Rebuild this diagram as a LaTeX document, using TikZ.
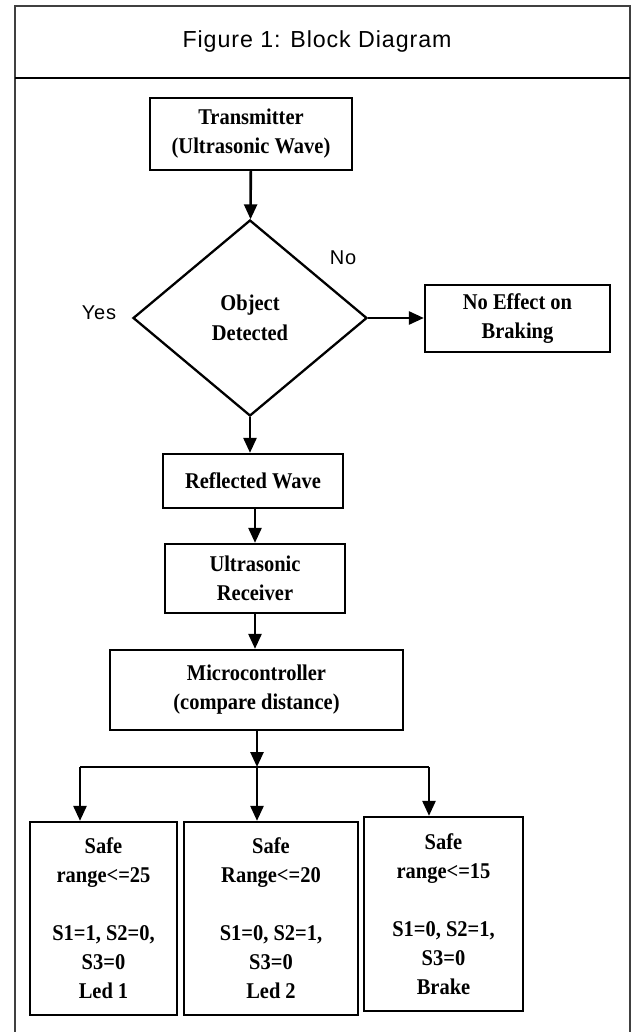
\documentclass[tikz,border=0pt]{standalone}
\usepackage{fontspec}
\setmainfont{Liberation Serif}[FakeStretch = 0.91]
\newfontfamily\labelfont[LetterSpace=4]{Liberation Sans}
\usetikzlibrary{shapes.geometric}
\usetikzlibrary{arrows.meta}

\begin{document}
\begin{tikzpicture}[x = 1pt, y = -1pt,
        blockbox/.style = {draw = black, line width = 2.3pt, inner sep = 0pt, align = center,
            font = \bfseries\fontsize{22.5}{29}\selectfont},
        decision/.style = {diamond, draw = black, line width = 2.3pt, inner sep = 0pt, align = center,
            font = \bfseries\fontsize{22.5}{30}\selectfont},
        flow/.style = {line width = 2.6pt, -{Triangle[length = 15pt, width = 13pt]}},
        answer/.style = {font = \labelfont\fontsize{20}{22}\selectfont}]
            \useasboundingbox (0, 0) rectangle (633, 1032);

            % frame and title
            \draw [line width = 1.4pt, draw = black!75] (15, 1032) |- (630, 6) -- (630, 1032);
            \draw [line width = 2pt] (15, 78) -- (630, 78);
            \node (title) at (317, 42) {\labelfont\fontsize{23.2}{25}\selectfont Figure 1: Block Diagram};

            % blocks
            \node [blockbox, minimum width = 202pt, minimum height = 72pt] (trans) at (251, 134) {Transmitter\\(Ultrasonic Wave)};
            \node [decision, minimum width = 234pt, minimum height = 196pt] (detect) at (250, 318) {Object\\Detected};
            \node [blockbox, minimum width = 185pt, minimum height = 67pt] (noeffect) at (517.5, 318.5) {No Effect on\\Braking};
            \node [blockbox, minimum width = 180pt, minimum height = 54pt] (reflect) at (253, 481) {Reflected Wave};
            \node [blockbox, minimum width = 180pt, minimum height = 69pt] (receiver) at (255, 578.5) {Ultrasonic\\Receiver};
            \node [blockbox, minimum width = 293pt, minimum height = 80pt] (micro) at (256.5, 690) {Microcontroller\\(compare distance)};

            \node [blockbox, minimum width = 147pt, minimum height = 193pt] (led1) at (103.5, 918.5) {Safe\\range<=25\\[29pt]S1=1, S2=0,\\S3=0\\Led 1};
            \node [blockbox, minimum width = 174pt, minimum height = 193pt] (led2) at (271, 918.5) {Safe\\Range<=20\\[29pt]S1=0, S2=1,\\S3=0\\Led 2};
            \node [blockbox, minimum width = 159pt, minimum height = 194pt] (brake) at (443.5, 914) {Safe\\range<=15\\[29pt]S1=0, S2=1,\\S3=0\\Brake};

            \node [answer] (no) at (343, 258) {No};
            \node [answer] (yes) at (99, 313) {Yes};

            % connectors
            \coordinate (split) at (257, 767);
            \coordinate (left) at (80, 767);
            \coordinate (right) at (429, 767);

            \draw [flow] (trans) -- (detect);
            \draw [flow] (detect.east) -- (noeffect.west |- detect.east);
            \draw [flow] (detect.south) -- (detect.south |- reflect.north);
            \draw [flow] (reflect.south -| receiver.north) -- (receiver.north);
            \draw [flow] (receiver) -- (receiver |- micro.north);
            \draw [flow] (split |- micro.south) -- (split);
            \draw [line width = 2.6pt] (left) -- (right);
            \draw [flow] (left) -- (left |- led1.north);
            \draw [flow] (split) -- (split |- led2.north);
            \draw [flow] (right) -- (right |- brake.north);
        \end{tikzpicture}
\end{document}
